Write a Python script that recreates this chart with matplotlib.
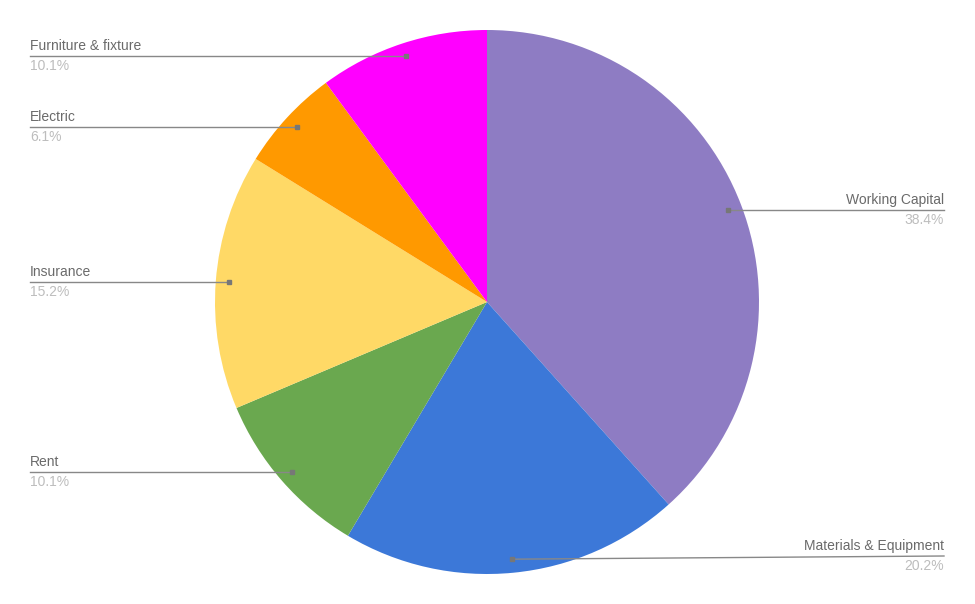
import numpy as np
import matplotlib
matplotlib.use("Agg")
import matplotlib.pyplot as plt

plt.rcParams['font.family'] = ['Liberation Sans', 'DejaVu Sans']

# slices, clockwise from 12 o'clock
labels = ["Working Capital", "Materials & Equipment", "Rent", "Insurance",
          "Electric", "Furniture & fixture"]
shares = [38.4, 20.2, 10.1, 15.2, 6.1, 10.1]
colors = ["#8E7CC3", "#3C78D8", "#6AA84F", "#FFD966", "#FF9900", "#FF00FF"]

# label row (pixel y from top) for each slice
label_y = [209, 556, 470, 281, 126, 56]

W, H = 975, 604
fig = plt.figure(figsize=(W / 100, H / 100), dpi=100)
ax = fig.add_axes([0, 0, 1, 1])

cx, cy, r = 487, H - 302, 272
wedges, _ = ax.pie(shares, colors=colors, startangle=90, counterclock=False,
                   center=(cx, cy), radius=r, frame=True,
                   wedgeprops=dict(linewidth=0))
ax.set_xlim(0, W)
ax.set_ylim(0, H)
ax.set_aspect('equal')
ax.axis('off')

for w, name, pct, ly in zip(wedges, labels, shares, label_y):
    mid = np.deg2rad((w.theta1 + w.theta2) / 2)
    axx = cx + 0.95 * r * np.cos(mid)
    axy = cy + 0.95 * r * np.sin(mid)
    y = H - ly
    if abs(y - axy) < 2:
        y = axy  # keep the leader flat when it nearly is
    if np.cos(mid) >= 0:
        xe, ha = 944, 'right'
    else:
        xe, ha = 30, 'left'
    ax.plot([axx, xe], [axy, y], color="#888888", lw=1, zorder=5)
    ax.plot([axx], [axy], marker='s', ms=2.5, color="#777777", zorder=6)
    ax.text(xe, y + 3, name, ha=ha, va='bottom', fontsize=10, color="#6a6a6a")
    ax.text(xe, y - 3, "%.1f%%" % pct, ha=ha, va='top', fontsize=10,
            color="#bdbdbd")

fig.savefig("out.png", dpi=100)
